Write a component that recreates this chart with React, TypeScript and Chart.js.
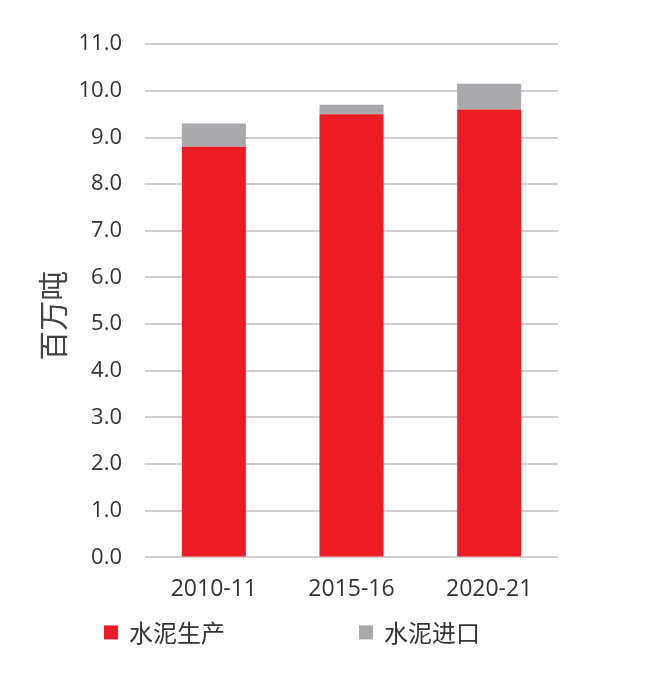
import React, { useEffect, useRef } from "react";
import { Chart, registerables } from "chart.js";

Chart.register(...registerables);

const categories = ["2010-11", "2015-16", "2020-21"];
const productionValues = [8.8, 9.5, 9.6];
const importValues = [0.5, 0.2, 0.55];
const seriesLabels = ["水泥生产", "水泥进口"];
const seriesColors = ["#ED1C24", "#A7A9AC"];
const yAxisTitle = "百万吨\u3000";

const legendPlugin = {
  id: "customBottomLegend",
  afterDraw(chart: any) {
    const { ctx, chartArea } = chart;
    const y = chartArea.bottom + 75;
    const starts = [chartArea.left - 41, chartArea.left + 214];
    ctx.save();
    ctx.font = "24px 'Noto Sans CJK SC', sans-serif";
    ctx.textBaseline = "middle";
    ctx.textAlign = "left";
    chart.data.datasets.forEach((ds: any, i: number) => {
      const x = starts[i];
      ctx.fillStyle = ds.backgroundColor;
      ctx.fillRect(x, y - 7, 14, 14);
      ctx.fillStyle = "#333";
      ctx.fillText(ds.label, x + 25, y);
    });
    ctx.restore();
  },
};

export default function App() {
  const ref = useRef<HTMLCanvasElement>(null);
  useEffect(() => {
    if (!ref.current) return;
    const chart = new Chart(ref.current, {
      type: "bar",
      data: {
        labels: categories,
        datasets: [
          {
            label: seriesLabels[0],
            data: productionValues,
            backgroundColor: seriesColors[0],
            barPercentage: 0.465,
            categoryPercentage: 1,
          },
          {
            label: seriesLabels[1],
            data: importValues,
            backgroundColor: seriesColors[1],
            barPercentage: 0.465,
            categoryPercentage: 1,
          },
        ],
      },
      options: {
        animation: false,
        responsive: true,
        maintainAspectRatio: false,
        layout: { padding: { left: 27, top: 35, right: 89, bottom: 61 } },
        plugins: {
          legend: { display: false },
          tooltip: { enabled: false },
        },
        scales: {
          x: {
            stacked: true,
            grid: { display: false },
            border: { display: false },
            ticks: {
              color: "#333",
              padding: 10,
              font: { family: "'Open Sans', sans-serif", size: 23 },
            },
          },
          y: {
            stacked: true,
            min: 0,
            max: 11,
            afterFit(scale: any) {
              scale.width = 110;
            },
            grid: { color: "#CFCFCF", lineWidth: 2, drawTicks: false },
            border: { display: false },
            ticks: {
              stepSize: 1,
              padding: 23,
              color: "#333",
              font: { family: "'Open Sans', sans-serif", size: 22 },
              callback: (v: any) => Number(v).toFixed(1),
            },
            title: {
              display: true,
              text: yAxisTitle,
              color: "#444",
              padding: 0,
              font: { family: "'Noto Sans CJK SC', sans-serif", size: 30 },
            },
          },
        },
      },
      plugins: [legendPlugin],
    });
    return () => chart.destroy();
  }, []);
  return (
    <div style={{ width: 639, height: 666, position: "relative" }}>
      <canvas ref={ref} />
    </div>
  );
}
